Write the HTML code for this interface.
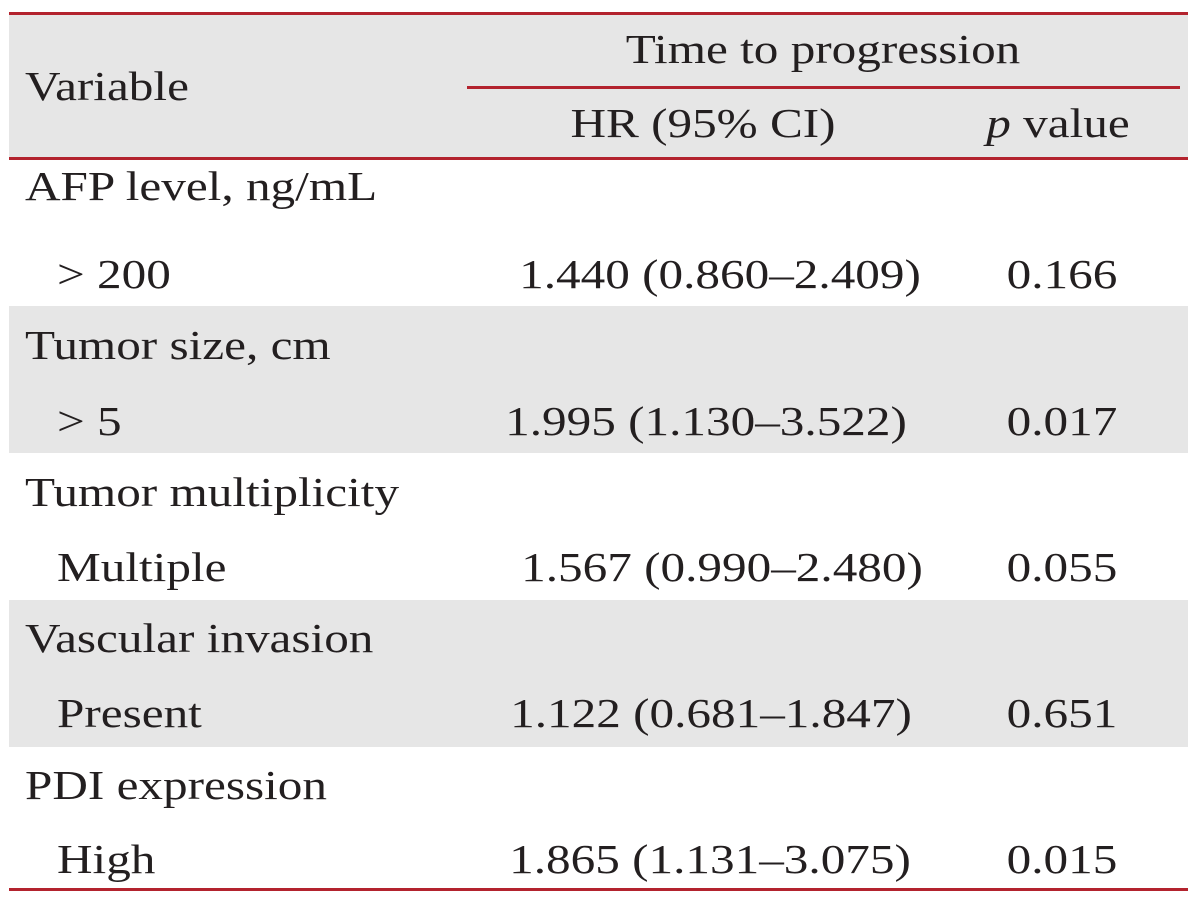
<!DOCTYPE html>
<html><head><meta charset="utf-8"><style>
body{margin:0;width:1200px;height:907px;background:#fff;position:relative;overflow:hidden;font-family:"Liberation Serif","DejaVu Serif",serif;color:#231f20}
.t{position:absolute;font-size:41px;white-space:nowrap;line-height:1;transform:scaleX(1.2);transform-origin:left top}
.gray{position:absolute;left:9px;width:1179px;background:#e6e6e6}
.red{position:absolute;height:3px;background:#b3232e}
.t.c{transform:translateX(-50%) scaleX(1.2);transform-origin:center top}
</style></head><body>
<div class="gray" style="top:13px;height:146px"></div>
<div class="gray" style="top:306px;height:147px"></div>
<div class="gray" style="top:600px;height:147px"></div>
<div class="red" style="left:9px;width:1179px;top:12px"></div>
<div class="red" style="left:467px;width:713px;top:86px"></div>
<div class="red" style="left:9px;width:1179px;top:157px"></div>
<div class="red" style="left:9px;width:1179px;top:888px"></div>

<div class="t" style="left:25px;top:66px">Variable</div>
<div class="t c" style="left:823px;top:29px">Time to progression</div>
<div class="t c" style="left:703px;top:103px">HR (95% CI)</div>
<div class="t c" style="left:1058px;top:103px"><i>p</i> value</div>

<div class="t" style="left:25px;top:166px">AFP level, ng/mL</div>
<div class="t" style="left:57px;top:254px">&gt; 200</div>
<div class="t c" style="left:720px;top:254px">1.440 (0.860–2.409)</div>
<div class="t c" style="left:1062px;top:254px">0.166</div>

<div class="t" style="left:25px;top:325px">Tumor size, cm</div>
<div class="t" style="left:57px;top:401px">&gt; 5</div>
<div class="t c" style="left:706px;top:401px">1.995 (1.130–3.522)</div>
<div class="t c" style="left:1062px;top:401px">0.017</div>

<div class="t" style="left:25px;top:472px">Tumor multiplicity</div>
<div class="t" style="left:57px;top:547px">Multiple</div>
<div class="t c" style="left:722px;top:547px">1.567 (0.990–2.480)</div>
<div class="t c" style="left:1062px;top:547px">0.055</div>

<div class="t" style="left:25px;top:618px">Vascular invasion</div>
<div class="t" style="left:57px;top:693px">Present</div>
<div class="t c" style="left:711px;top:693px">1.122 (0.681–1.847)</div>
<div class="t c" style="left:1062px;top:693px">0.651</div>

<div class="t" style="left:25px;top:765px">PDI expression</div>
<div class="t" style="left:57px;top:839px">High</div>
<div class="t c" style="left:710px;top:839px">1.865 (1.131–3.075)</div>
<div class="t c" style="left:1062px;top:839px">0.015</div>
</body></html>
